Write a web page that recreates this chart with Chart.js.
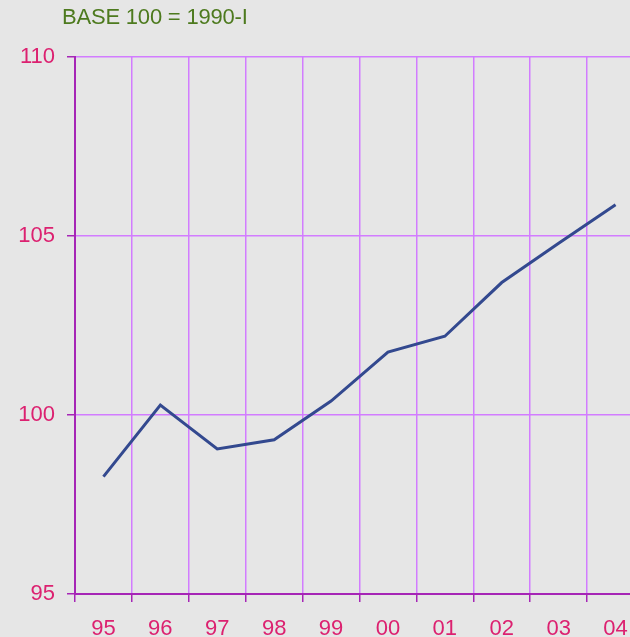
<!DOCTYPE html>
<html>
<head>
<meta charset="utf-8">
<script src="https://cdn.jsdelivr.net/npm/chart.js@4/dist/chart.umd.min.js"></script>
<style>
  html, body { margin: 0; padding: 0; overflow: hidden; background: #e6e6e6; }
  #wrap { position: relative; width: 644px; height: 637px; }
  #title {
    position: absolute; left: 62px; top: 4px;
    font-family: "Liberation Sans", Arial, sans-serif;
    font-size: 22px; color: #4d7a1e; letter-spacing: -0.2px;
  }
</style>
</head>
<body>
<div id="wrap">
  <div id="title">BASE 100 = 1990-I</div>
  <canvas id="chart" width="644" height="637"></canvas>
</div>
<script>
// years along the bottom and the index values
const years = ['95', '96', '97', '98', '99', '00', '01', '02', '03', '04'];
const indexValues = [98.28, 100.28, 99.05, 99.31, 100.39, 101.76, 102.2, 103.7, 104.8, 105.87];
const yTicks = [95, 100, 105, 110];

const labelColor = '#dc2170';
const gridColor = '#d27cff';
const axisColor = '#a626b6';
const font = { family: '"Liberation Sans", Arial, sans-serif', size: 22 };

const ctx = document.getElementById('chart').getContext('2d');
new Chart(ctx, {
  type: 'line',
  data: {
    labels: years,
    datasets: [{
      data: indexValues,
      borderColor: '#33498f',
      borderWidth: 3,
      pointRadius: 0,
      tension: 0,
      fill: false
    }]
  },
  options: {
    responsive: false,
    animation: false,
    layout: { padding: { top: 57, left: 0, right: 0, bottom: 0 } },
    plugins: { legend: { display: false }, tooltip: { enabled: false } },
    scales: {
      x: {
        offset: true,
        grid: { offset: true, color: gridColor, lineWidth: 1.5, tickColor: axisColor, tickLength: 8 },
        border: { color: axisColor, width: 2 },
        ticks: { color: labelColor, font: font, padding: 14, maxRotation: 0, autoSkip: false },
        afterFit: (scale) => { scale.height = 43; }
      },
      y: {
        min: 95,
        max: 110,
        afterBuildTicks: (scale) => { scale.ticks = yTicks.map(v => ({ value: v })); },
        grid: { color: gridColor, lineWidth: 1.5, tickColor: axisColor, tickLength: 8 },
        border: { color: axisColor, width: 2 },
        ticks: { color: labelColor, font: font, padding: 12 },
        afterFit: (scale) => { scale.width = 75; }
      }
    }
  }
});
</script>
</body>
</html>
